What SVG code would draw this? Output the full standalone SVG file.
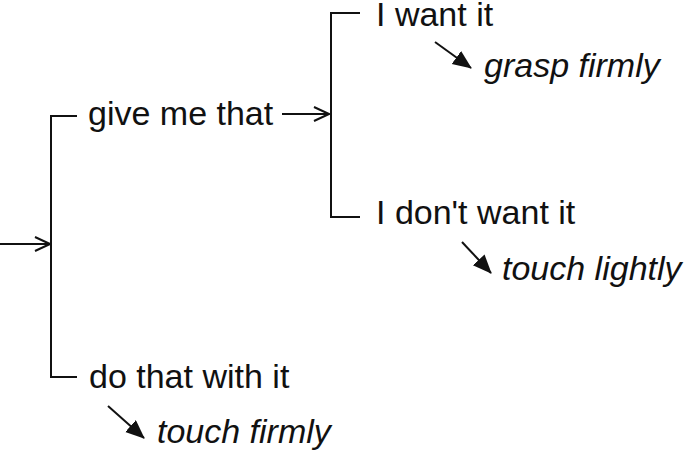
<svg xmlns="http://www.w3.org/2000/svg" width="685" height="455" viewBox="0 0 685 455">
<defs>
<style>
.t{font-family:"Liberation Sans",Arial,sans-serif;font-size:34px;fill:#111}
.i{font-family:"Liberation Sans",Arial,sans-serif;font-size:34px;font-style:italic;fill:#111}
.l{fill:none;stroke:#111;stroke-width:2}
</style>
<marker id="open" markerWidth="18" markerHeight="18" refX="16" refY="8" orient="auto" markerUnits="userSpaceOnUse">
<path d="M1,1 L16,8 L1,15" fill="none" stroke="#111" stroke-width="2"/>
</marker>
<marker id="solid" markerWidth="20" markerHeight="18" refX="18" refY="8" orient="auto" markerUnits="userSpaceOnUse">
<path d="M0,0 L19,8 L0,16 Z" fill="#111"/>
</marker>
</defs>
<rect width="685" height="455" fill="#fff"/>
<g id="connectors">
<line class="l" x1="0" y1="244" x2="50" y2="244" marker-end="url(#open)"/>
<path class="l" d="M77,116 H51 V377 H77"/>
<line class="l" x1="282" y1="114" x2="329" y2="114" marker-end="url(#open)"/>
<path class="l" d="M360,13 H331 V217 H360"/>
<line class="l" x1="435" y1="42" x2="471" y2="68" marker-end="url(#solid)"/>
<line class="l" x1="462" y1="242" x2="491" y2="273" marker-end="url(#solid)"/>
<line class="l" x1="108" y1="406" x2="144" y2="438" marker-end="url(#solid)"/>
</g>
<g id="give"><text class="t" x="88" y="125">give me that</text></g>
<g id="want"><text class="t" x="376" y="26">I want it</text></g>
<g id="dontwant"><text class="t" x="376" y="224">I don't want it</text></g>
<g id="dothat"><text class="t" x="89" y="388">do that with it</text></g>
<g id="grasp"><text class="i" x="484" y="77">grasp firmly</text></g>
<g id="lightly"><text class="i" x="502" y="280">touch lightly</text></g>
<g id="firmly"><text class="i" x="157" y="443">touch firmly</text></g>
</svg>
